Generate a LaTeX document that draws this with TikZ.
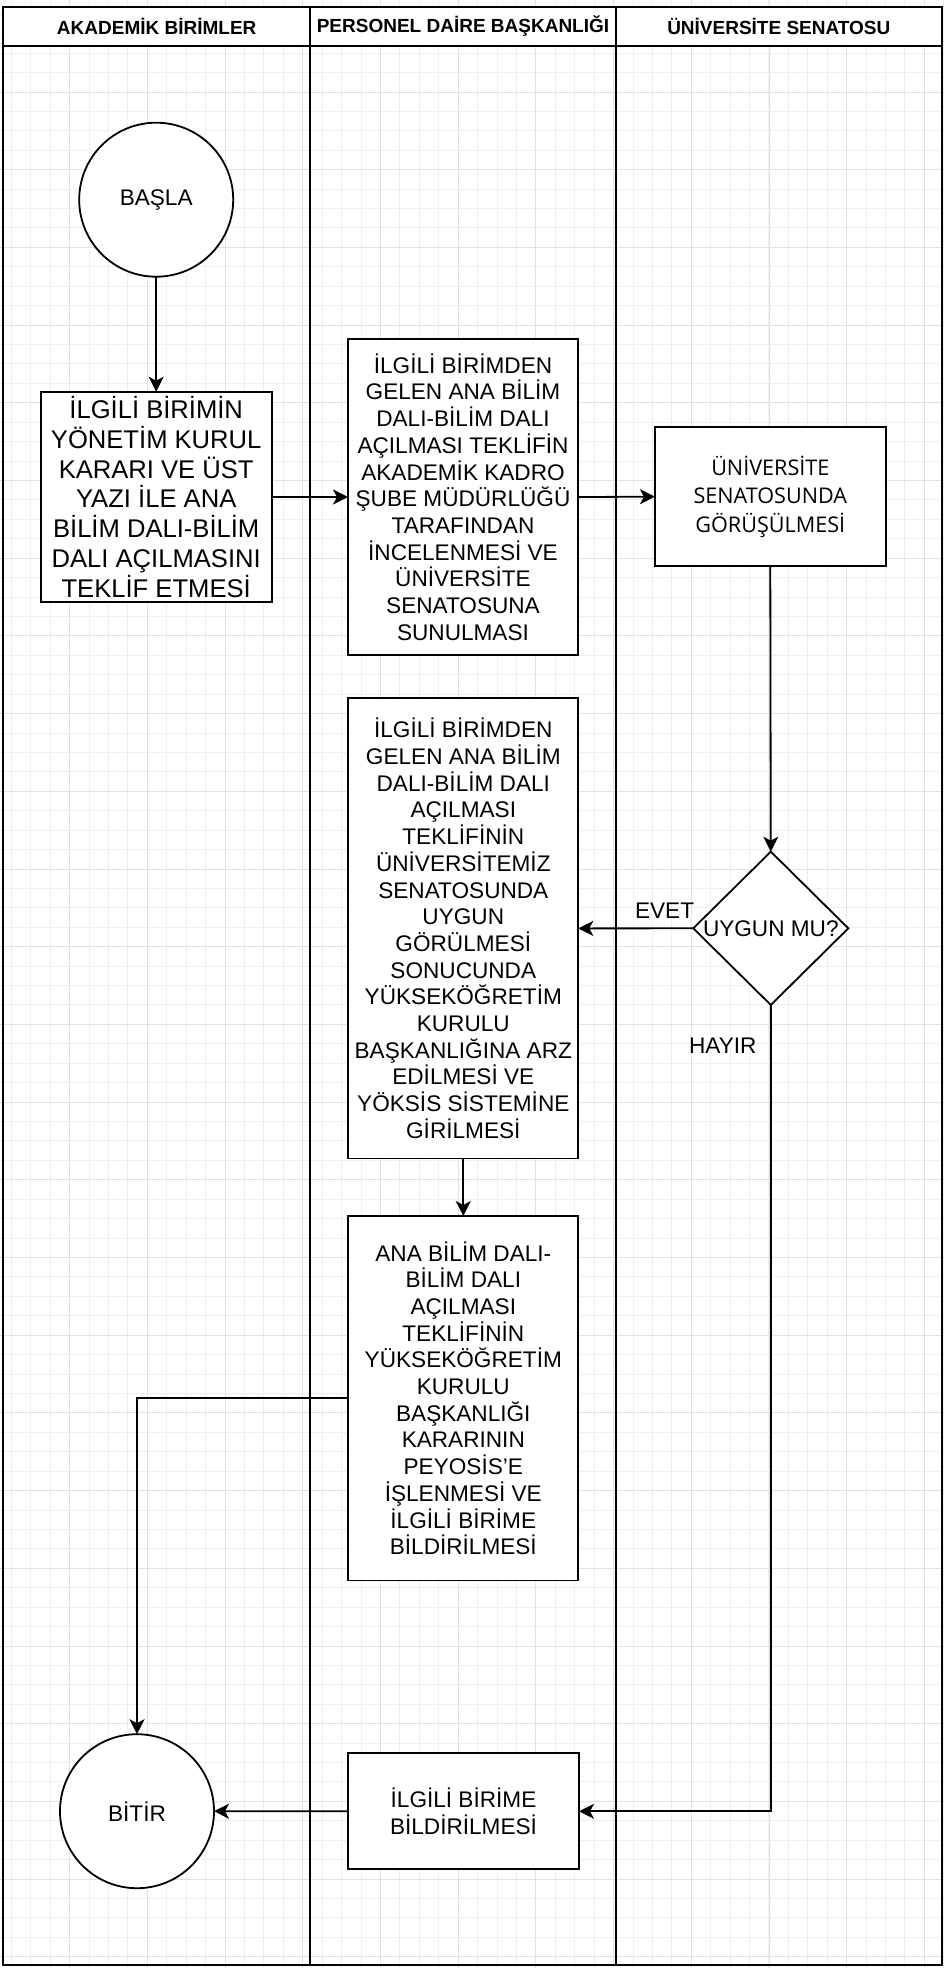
\documentclass[tikz,border=0pt]{standalone}
\usepackage{fontspec}
\setmainfont{Liberation Sans}
\newfontfamily\opensans{Open Sans}
\usetikzlibrary{arrows.meta,shapes.geometric}

\definecolor{gridminor}{HTML}{EFEFEF}
\definecolor{gridmajor}{HTML}{E1E1E1}

\newcommand\fshead{\fontsize{19}{22}\bfseries\selectfont}
\newcommand\fsbig{\fontsize{25.6}{29.7}\selectfont}
\newcommand\fsmid{\fontsize{22.6}{26.7}\selectfont}
\newcommand\fsos{\opensans\fontsize{21.6}{28.7}\selectfont}

\begin{document}
\begin{tikzpicture}[x=1pt,y=-1pt,
  every node/.style={inner sep=0pt, outer sep=0pt},
  minorline/.style={draw=gridminor, line width=1pt},
  majorline/.style={draw=gridmajor, line width=1pt},
  frameline/.style={draw=black, line width=2pt},
  box/.style={draw=black, fill=white, line width=1.8pt, align=center, font=\fsmid},
  terminal/.style={draw=black, fill=white, line width=1.8pt, circle, minimum size=154pt, font=\fsmid},
  decision/.style={draw=black, fill=white, line width=1.8pt, diamond, minimum width=155pt, minimum height=153.3pt},
  headtext/.style={font=\fshead},
  edgetext/.style={font=\fsmid},
  arr/.style={draw=black, line width=1.8pt, -{Stealth[length=15pt,width=15pt,inset=4pt]}}
]
\useasboundingbox (0,0) rectangle (944,1968);

% background grid
\foreach \i in {0,...,48} {\draw[minorline] (11.4+\i*19.425,0) -- (11.4+\i*19.425,1968);}
\foreach \i in {0,...,101} {\draw[minorline] (0,14.3+\i*19.425) -- (944,14.3+\i*19.425);}
\foreach \i in {0,...,11} {\draw[majorline] (69.7+\i*77.7,0) -- (69.7+\i*77.7,1968);}
\foreach \i in {0,...,25} {\draw[majorline] (0,14.3+\i*77.7) -- (944,14.3+\i*77.7);}

% swimlane frame and header row
\fill[white] (3.3,7.3) rectangle (941.5,45.7);
\draw[frameline] (3.3,7.3) rectangle (941.5,1965);
\draw[frameline] (3.3,45.7) -- (941.5,45.7);
\draw[frameline] (310,7.3) -- (310,1965);
\draw[frameline] (616,7.3) -- (616,1965);

\node[headtext] (h1) at (156.7,26.5) {AKADEMİK BİRİMLER};
\node[headtext] (h2) at (463,26.5) {PERSONEL DAİRE BAŞKANLIĞI};
\node[headtext] (h3) at (778.8,26.5) {ÜNİVERSİTE SENATOSU};

% flow nodes
\node[terminal] (basla) at (156.2,199.7) {BAŞLA};

\node[box, font=\fsbig, minimum width=230.8pt, minimum height=210.6pt] (b1) at (156.2,497)
  {İLGİLİ BİRİMİN\\YÖNETİM KURUL\\KARARI VE ÜST\\YAZI İLE ANA\\BİLİM DALI-BİLİM\\DALI AÇILMASINI\\TEKLİF ETMESİ};

\node[box, minimum width=230pt, minimum height=316pt] (b2) at (463,497)
  {İLGİLİ BİRİMDEN\\GELEN ANA BİLİM\\DALI-BİLİM DALI\\AÇILMASI TEKLİFİN\\AKADEMİK KADRO\\ŞUBE MÜDÜRLÜĞÜ\\TARAFINDAN\\İNCELENMESİ VE\\ÜNİVERSİTE\\SENATOSUNA\\SUNULMASI};

\node[box, font=\fsos, minimum width=230.7pt, minimum height=138.7pt] (b3) at (770.3,496.7)
  {ÜNİVERSİTE\\SENATOSUNDA\\GÖRÜŞÜLMESİ};

\node[decision, label={[font=\fsmid]center:UYGUN MU?}] (dia) at (770.8,928.3) {};

\node[box, minimum width=230pt, minimum height=460.2pt] (b4) at (463.3,928.4)
  {İLGİLİ BİRİMDEN\\GELEN ANA BİLİM\\DALI-BİLİM DALI\\AÇILMASI\\TEKLİFİNİN\\ÜNİVERSİTEMİZ\\SENATOSUNDA\\UYGUN\\GÖRÜLMESİ\\SONUCUNDA\\YÜKSEKÖĞRETİM\\KURULU\\BAŞKANLIĞINA ARZ\\EDİLMESİ VE\\YÖKSİS SİSTEMİNE\\GİRİLMESİ};

\node[box, minimum width=230pt, minimum height=364.4pt] (b5) at (463.3,1398.2)
  {ANA BİLİM DALI-\\BİLİM DALI\\AÇILMASI\\TEKLİFİNİN\\YÜKSEKÖĞRETİM\\KURULU\\BAŞKANLIĞI\\KARARININ\\PEYOSİS{\char39}E\\İŞLENMESİ VE\\İLGİLİ BİRİME\\BİLDİRİLMESİ};

\node[box, minimum width=231pt, minimum height=116pt] (b6) at (463.5,1811.3)
  {İLGİLİ BİRİME\\BİLDİRİLMESİ};

\node[terminal] (bitir) at (137,1811.2) {BİTİR};

% connectors
\coordinate (c5) at (137,1398.2);
\draw[arr] (basla.south) -- (b1.north);
\draw[arr] (b1.east) -- (b2.west);
\draw[arr] (b2.east) -- (b3.west);
\draw[arr] (b3.south) -- (dia.north);
\draw[arr] (dia.west) -- node[edgetext, pos=0.25, yshift=18pt] {EVET} (b4.east);
\draw[arr] (dia.south) |- node[edgetext, pos=0.025, xshift=-48pt] {HAYIR} (b6.east);
\draw[arr] (b4.south) -- (b5.north);
\draw[arr] (b5.west) -- (c5) -- (bitir.north);
\draw[arr] (b6.west) -- (bitir.east);
\end{tikzpicture}
\end{document}
